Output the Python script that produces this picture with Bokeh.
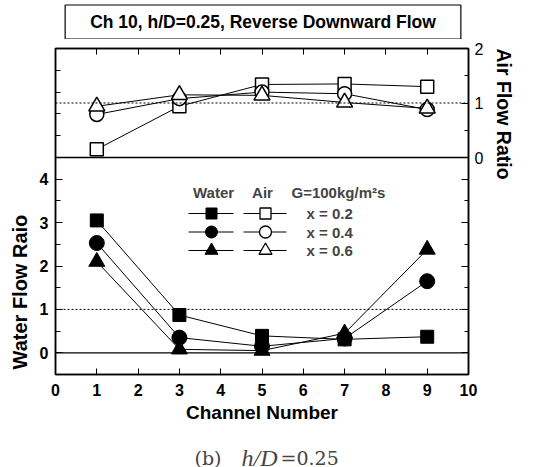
import math
from bokeh.plotting import figure
from bokeh.layouts import column
from bokeh.models import (Range1d, LinearAxis, FixedTicker, Span, Label, Title,
                          CustomJSTickFormatter)
from bokeh.embed import file_html
from bokeh.resources import INLINE

# ---------------- data ----------------
channels = [1, 3, 5, 7, 9]
water_x02 = [3.05, 0.87, 0.39, 0.31, 0.37]
water_x04 = [2.53, 0.35, 0.15, 0.33, 1.65]
water_x06 = [2.10, 0.08, 0.05, 0.45, 2.38]
air_x02 = [0.15, 0.94, 1.34, 1.35, 1.30]
air_x04 = [0.79, 1.08, 1.20, 1.17, 0.88]
air_x06 = [0.94, 1.15, 1.14, 1.01, 0.90]
series_labels = ["x = 0.2", "x = 0.4", "x = 0.6"]
x_ticks = [0, 1, 2, 3, 4, 5, 6, 7, 8, 9, 10]
water_ticks = [0, 1, 2, 3, 4]
water_minor = [-0.5, 0.5, 1.5, 2.5, 3.5]
air_ticks = [0, 1, 2]
air_minor = [0.5, 1.5]
air_left_ticks = [0.4, 0.8, 1.2, 1.6]

# ---------------- layout (page pixels) ----------------
W = 537
HEAD_H, MAIN_H, CAP_H = 39, 389, 39
FL, FR, FT, FM, FB = 55, 468, 48, 157, 374
X0, X1 = 0, 10
W_LO, W_HI = -0.5, 4.5
A_LO, A_HI = 0, 2
w_ppu = (FB - FM) / (W_HI - W_LO)
a_ppu = (FM - FT) / (A_HI - A_LO)
y_end = W_HI + (FM - FT) / w_ppu
a_start = A_LO - (FB - FM) / a_ppu


def dx(px):
    return X0 + (px - FL) / (FR - FL) * (X1 - X0)


def dy(py):
    return W_HI - (py - FM) / w_ppu


def a2w(a):
    return W_HI + (a - A_LO) * a_ppu / w_ppu


def w2a(w):
    return A_LO + (w - W_HI) * w_ppu / a_ppu


SANS = "Liberation Sans"
SERIF = "DejaVu Serif"
SERIF_IT = "Liberation Serif"


def blank_fig(h):
    # same horizontal frame as the main plot (column aligns frames); y in pixels from top
    f = figure(width=W, height=h, x_range=Range1d(X0, X1), y_range=Range1d(h, 0),
               output_backend="svg", toolbar_location=None, title_location=None,
               x_axis_type=None, y_axis_type=None,
               min_border_left=FL, min_border_right=W - FR, min_border_top=0, min_border_bottom=0)
    f.grid.visible = False
    f.outline_line_color = None
    f.background_fill_color = "white"
    f.border_fill_color = "white"
    return f


# ---------------- header (title box) ----------------
head = blank_fig(HEAD_H)
head.add_layout(Label(x=dx(262.5), y=21.5, text="Ch 10, h/D=0.25, Reverse Downward Flow",
                      text_font=SANS, text_font_style="bold", text_font_size="17.5px",
                      text_color="black", text_align="center", text_baseline="middle",
                      border_line_color="black", border_line_width=1.2,
                      background_fill_color="white", padding=(25, 7)))

# ---------------- main plot ----------------
p = figure(width=W, height=MAIN_H, x_range=Range1d(X0, X1), y_range=Range1d(W_LO, y_end),
           output_backend="svg", toolbar_location=None, title_location=None,
           x_axis_type=None, y_axis_type=None,
           min_border_left=FL, min_border_right=W - FR,
           min_border_top=FT - HEAD_H, min_border_bottom=HEAD_H + MAIN_H - FB)
p.extra_y_ranges = {"air": Range1d(a_start, A_HI)}
p.grid.visible = False
p.outline_line_color = "black"
p.outline_line_width = 1.5
p.background_fill_color = "white"
p.border_fill_color = "white"

empty_fmt = CustomJSTickFormatter(code="return '';")

bottom = LinearAxis(ticker=FixedTicker(ticks=x_ticks), major_tick_in=6, major_tick_out=0,
                    minor_tick_in=0, minor_tick_out=0, axis_line_width=1.5,
                    major_label_text_font=SANS, major_label_text_font_style="bold",
                    major_label_text_font_size="16px", major_label_standoff=9,
                    major_label_text_color="black",
                    axis_label="Channel Number", axis_label_text_font=SANS,
                    axis_label_text_font_style="bold", axis_label_text_font_size="19px",
                    axis_label_text_color="black", axis_label_standoff=3)
p.add_layout(bottom, "below")

top = LinearAxis(ticker=FixedTicker(ticks=x_ticks[1:-1]), major_tick_in=6, major_tick_out=0,
                 minor_tick_in=0, minor_tick_out=0, axis_line_width=1.5,
                 formatter=empty_fmt, major_label_text_font_size="1px", major_label_standoff=0)
p.add_layout(top, "above")

left = LinearAxis(ticker=FixedTicker(ticks=water_ticks,
                                     minor_ticks=water_minor + [a2w(a) for a in air_left_ticks]),
                  major_tick_in=7, major_tick_out=0, minor_tick_in=5, minor_tick_out=0,
                  axis_line_width=1.5, major_label_text_color="black",
                  major_label_text_font=SANS, major_label_text_font_style="bold",
                  major_label_text_font_size="16px", major_label_standoff=7)
p.add_layout(left, "left")

right = LinearAxis(y_range_name="air",
                   ticker=FixedTicker(ticks=air_ticks + [w2a(w) for w in water_ticks],
                                      minor_ticks=air_minor + [w2a(w) for w in water_minor]),
                   formatter=CustomJSTickFormatter(code="return tick < -1e-6 ? '' : tick.toFixed(0);"),
                   major_tick_in=7, major_tick_out=0, minor_tick_in=4, minor_tick_out=0,
                   axis_line_width=1.5, major_label_text_color="black",
                   major_label_text_font=SANS, major_label_text_font_size="16px",
                   major_label_standoff=6)
p.add_layout(right, "right")

p.add_layout(Title(text="Water Flow Raio", align="left", offset=5, vertical_align="middle",
                   text_font=SANS, text_font_style="bold", text_font_size="20px",
                   text_color="black", standoff=10), "left")
p.add_layout(Title(text="Air Flow Ratio", align="left", offset=0, vertical_align="middle",
                   text_font=SANS, text_font_style="bold", text_font_size="19.5px",
                   text_color="black", standoff=10), "right")

# reference lines
p.add_layout(Span(location=1, dimension="width", line_color="black", line_width=1, line_dash="2 2"))
p.add_layout(Span(location=0, dimension="width", line_color="black", line_width=1.2))
p.add_layout(Span(location=1, dimension="width", y_range_name="air", line_color="black",
                  line_width=1, line_dash="2 2"))
p.add_layout(Span(location=0, dimension="width", y_range_name="air", line_color="black",
                  line_width=1.5))

markers = ["square", "circle", "triangle"]
wsizes = [13, 15, 16]
asizes = [13, 14, 16]
water = [water_x02, water_x04, water_x06]
air = [air_x02, air_x04, air_x06]

for vals in water:
    p.line(channels, vals, line_color="black", line_width=1)
for vals, mk, s in zip(water, markers, wsizes):
    p.scatter(channels, vals, marker=mk, size=s, fill_color="black", line_color="black")
for vals in air:
    p.line(channels, vals, y_range_name="air", line_color="black", line_width=1)
for vals, mk, s in zip(air, markers, asizes):
    p.scatter(channels, vals, y_range_name="air", marker=mk, size=s, fill_color="white",
              line_color="black", line_width=1.5)

# legend (manual)
hdr_y = 192
row_y = [213, 231.5, 250]
lsz = [11, 12, 13]
for lab, mk, ry, s in zip(series_labels, markers, row_y, lsz):
    p.line([dx(188), dx(233)], [dy(ry), dy(ry)], line_color="black", line_width=1)
    p.scatter([dx(211)], [dy(ry)], marker=mk, size=s, fill_color="black", line_color="black")
    p.line([dx(243), dx(286)], [dy(ry), dy(ry)], line_color="black", line_width=1)
    p.scatter([dx(265)], [dy(ry)], marker=mk, size=s, fill_color="white", line_color="black",
              line_width=1.3)
    p.add_layout(Label(x=dx(306), y=dy(ry), text=lab, text_font=SANS, text_font_style="bold",
                       text_font_size="15px", text_align="left", text_baseline="middle"))

for txt, xx, al in [("Water", 213, "center"), ("Air", 262, "center"), ("G=100kg/m\u00b2s", 291, "left")]:
    p.add_layout(Label(x=dx(xx), y=dy(hdr_y), text=txt, text_font=SANS, text_font_style="bold",
                       text_font_size="15px", text_align=al, text_baseline="middle"))

# ---------------- caption ----------------
cap = blank_fig(CAP_H)
base = 457 - (HEAD_H + MAIN_H)
cap.add_layout(Label(x=dx(194), y=base, text="(b)", text_font=SERIF, text_font_size="19px",
                     text_align="left", text_baseline="alphabetic"))
cap.add_layout(Label(x=dx(277), y=base, text="h/D", text_font=SERIF_IT, text_font_style="italic",
                     text_font_size="24px", text_align="right", text_baseline="alphabetic"))
cap.add_layout(Label(x=dx(280), y=base, text="=0.25", text_font=SERIF, text_font_size="19px",
                     text_align="left", text_baseline="alphabetic"))

layout = column(head, p, cap, spacing=0)
open("out.html", "w").write(file_html(layout, INLINE))
